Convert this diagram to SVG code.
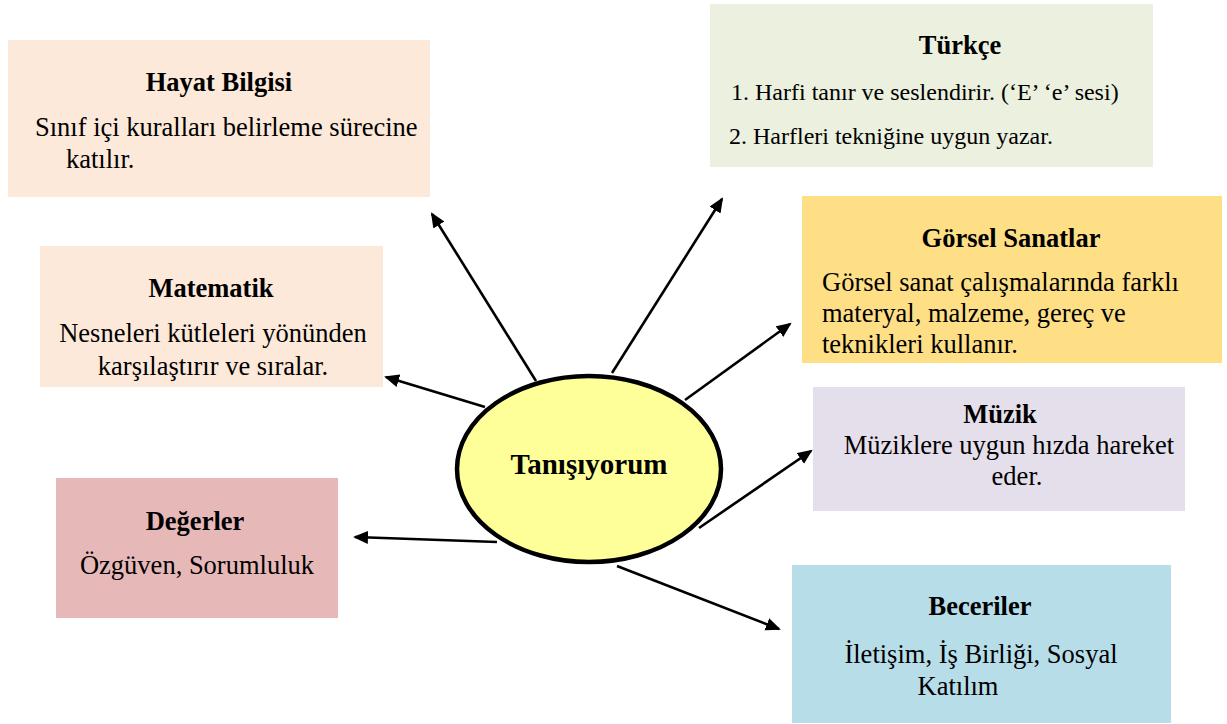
<svg xmlns="http://www.w3.org/2000/svg" width="1227" height="724" viewBox="0 0 1227 724">
<style>
text{font-family:"Liberation Serif","Times New Roman",serif;fill:#000}
.t{font-weight:bold;font-size:26.5px;text-anchor:middle}
.b{font-size:26.5px}
.c{text-anchor:middle}
.s{font-size:24px}
.conn line{stroke:#000;stroke-width:2.6;fill:none}
</style>
<defs>
<marker id="ah" markerUnits="userSpaceOnUse" markerWidth="16" markerHeight="14" refX="13" refY="6.5" orient="auto">
<path d="M0,0 L15,6.5 L0,13 z" fill="#000"/>
</marker>
</defs>
<rect width="1227" height="724" fill="#fff"/>
<g id="hayat">
<rect x="8" y="40" width="422" height="157" fill="#FDE9D9"/>
<text class="t" x="219" y="91">Hayat Bilgisi</text>
<text class="b" x="35" y="136">Sınıf içi kuralları belirleme sürecine</text>
<text class="b" x="66" y="168">katılır.</text>
</g>
<g id="turkce">
<rect x="710" y="4" width="443" height="163" fill="#EBF1DE"/>
<text class="t" x="960" y="54">Türkçe</text>
<text class="s" x="731" y="100">1. Harfi tanır ve seslendirir. (‘E’ ‘e’ sesi)</text>
<text class="s" x="729" y="144">2. Harfleri tekniğine uygun yazar.</text>
</g>
<g id="gorsel">
<rect x="802" y="196" width="420" height="167" fill="#FEDF86"/>
<text class="t" x="1011" y="247">Görsel Sanatlar</text>
<text class="b" x="822" y="291">Görsel sanat çalışmalarında farklı</text>
<text class="b" x="822" y="322">materyal, malzeme, gereç ve</text>
<text class="b" x="822" y="353">teknikleri kullanır.</text>
</g>
<g id="matematik">
<rect x="40" y="246" width="343" height="141" fill="#FDE9D9"/>
<text class="t" x="211" y="297">Matematik</text>
<text class="b c" x="213" y="342">Nesneleri kütleleri yönünden</text>
<text class="b c" x="213" y="375">karşılaştırır ve sıralar.</text>
</g>
<g id="muzik">
<rect x="813" y="387" width="372" height="124" fill="#E5DFEC"/>
<text class="t" x="1000" y="423">Müzik</text>
<text class="b c" x="1009" y="454">Müziklere uygun hızda hareket</text>
<text class="b c" x="1017" y="485">eder.</text>
</g>
<g id="degerler">
<rect x="56" y="478" width="282" height="140" fill="#E6B9B8"/>
<text class="t" x="195" y="530">Değerler</text>
<text class="b c" x="197" y="574">Özgüven, Sorumluluk</text>
</g>
<g id="beceriler">
<rect x="792" y="565" width="379" height="158" fill="#B7DDE8"/>
<text class="t" x="980" y="615">Beceriler</text>
<text class="b c" x="981" y="663">İletişim, İş Birliği, Sosyal</text>
<text class="b c" x="958" y="695">Katılım</text>
</g>
<g id="center">
<ellipse cx="589" cy="469" rx="132" ry="93" fill="#FFFF99" stroke="#000" stroke-width="4.5"/>
<text x="589" y="474" style="font-weight:bold;font-size:29px;text-anchor:middle">Tanışıyorum</text>
</g>
<g class="conn" id="connectors">
<line x1="536" y1="381" x2="432" y2="214" marker-end="url(#ah)"/>
<line x1="612" y1="373" x2="722" y2="199" marker-end="url(#ah)"/>
<line x1="685" y1="400" x2="790" y2="324" marker-end="url(#ah)"/>
<line x1="699" y1="528" x2="811" y2="451" marker-end="url(#ah)"/>
<line x1="617" y1="566" x2="779" y2="629" marker-end="url(#ah)"/>
<line x1="497" y1="542" x2="355" y2="537" marker-end="url(#ah)"/>
<line x1="485" y1="407" x2="386" y2="377" marker-end="url(#ah)"/>
</g>
</svg>
